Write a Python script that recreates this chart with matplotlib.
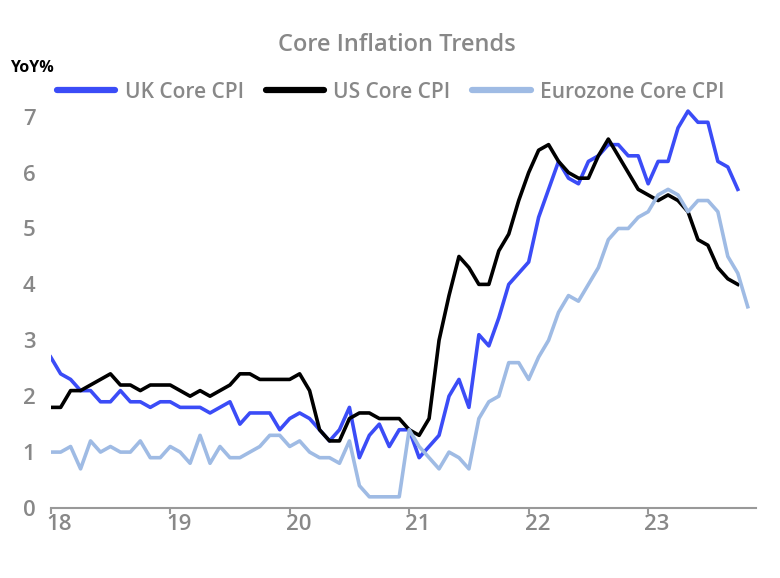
import matplotlib.pyplot as plt
import matplotlib.transforms as mtransforms
import numpy as np

# monthly YoY core inflation, Jan 2018 onwards
uk_core = [2.7, 2.4, 2.3, 2.1, 2.1, 1.9, 1.9, 2.1, 1.9, 1.9, 1.8, 1.9,
           1.9, 1.8, 1.8, 1.8, 1.7, 1.8, 1.9, 1.5, 1.7, 1.7, 1.7, 1.4,
           1.6, 1.7, 1.6, 1.4, 1.2, 1.4, 1.8, 0.9, 1.3, 1.5, 1.1, 1.4,
           1.4, 0.9, 1.1, 1.3, 2.0, 2.3, 1.8, 3.1, 2.9, 3.4, 4.0, 4.2,
           4.4, 5.2, 5.7, 6.2, 5.9, 5.8, 6.2, 6.3, 6.5, 6.5, 6.3, 6.3,
           5.8, 6.2, 6.2, 6.8, 7.1, 6.9, 6.9, 6.2, 6.1, 5.7]
us_core = [1.8, 1.8, 2.1, 2.1, 2.2, 2.3, 2.4, 2.2, 2.2, 2.1, 2.2, 2.2,
           2.2, 2.1, 2.0, 2.1, 2.0, 2.1, 2.2, 2.4, 2.4, 2.3, 2.3, 2.3,
           2.3, 2.4, 2.1, 1.4, 1.2, 1.2, 1.6, 1.7, 1.7, 1.6, 1.6, 1.6,
           1.4, 1.3, 1.6, 3.0, 3.8, 4.5, 4.3, 4.0, 4.0, 4.6, 4.9, 5.5,
           6.0, 6.4, 6.5, 6.2, 6.0, 5.9, 5.9, 6.3, 6.6, 6.3, 6.0, 5.7,
           5.6, 5.5, 5.6, 5.5, 5.3, 4.8, 4.7, 4.3, 4.1, 4.0]
ez_core = [1.0, 1.0, 1.1, 0.7, 1.2, 1.0, 1.1, 1.0, 1.0, 1.2, 0.9, 0.9,
           1.1, 1.0, 0.8, 1.3, 0.8, 1.1, 0.9, 0.9, 1.0, 1.1, 1.3, 1.3,
           1.1, 1.2, 1.0, 0.9, 0.9, 0.8, 1.2, 0.4, 0.2, 0.2, 0.2, 0.2,
           1.4, 1.1, 0.9, 0.7, 1.0, 0.9, 0.7, 1.6, 1.9, 2.0, 2.6, 2.6,
           2.3, 2.7, 3.0, 3.5, 3.8, 3.7, 4.0, 4.3, 4.8, 5.0, 5.0, 5.2,
           5.3, 5.6, 5.7, 5.6, 5.3, 5.5, 5.5, 5.3, 4.5, 4.2, 3.6]
years = [18, 19, 20, 21, 22, 23]

gray = '#888888'
plt.rcParams['font.family'] = ['Open Sans', 'DejaVu Sans']

fig = plt.figure(figsize=(7.8, 5.78), dpi=100)
ax = fig.add_axes([50.7 / 780, 70 / 578, 705 / 780, 402.5 / 578])

def months(n):
    return 18 + np.arange(n) / 12

ax.plot(months(len(uk_core)), uk_core, color='#3b4cf7', lw=2.6, label='UK Core CPI')
ax.plot(months(len(us_core)), us_core, color='black', lw=2.6, label='US Core CPI')
ax.plot(months(len(ez_core)), ez_core, color='#9fbbe4', lw=2.6, label='Eurozone Core CPI')

ax.set_xlim(18, 23.9)
ax.set_ylim(0, 7.2)
ax.set_xticks(years)
ax.set_xticklabels([str(y) for y in years])
ax.set_yticks(range(8))

for s in ['top', 'right', 'left']:
    ax.spines[s].set_visible(False)
ax.spines['bottom'].set_color('#999999')
ax.spines['bottom'].set_linewidth(1.5)
ax.tick_params(axis='x', colors='#999999', length=4, width=1.5, labelsize=16,
               labelcolor=gray, pad=0)
ax.tick_params(axis='y', length=0, labelsize=16, labelcolor=gray, pad=11)
shift = mtransforms.ScaledTranslation(-4 / 100, 0, fig.dpi_scale_trans)
for lbl in ax.get_xticklabels():
    lbl.set_horizontalalignment('left')
    lbl.set_transform(lbl.get_transform() + shift)
for lbl in ax.get_xticklabels() + ax.get_yticklabels():
    lbl.set_fontweight('semibold')

fig.text(397 / 780, 1 - 45 / 578, 'Core Inflation Trends', ha='center', va='center',
         fontsize=17, color=gray, fontweight='semibold')
fig.text(10 / 780, 1 - 68 / 578, 'YoY%', ha='left', va='center', fontsize=11.5,
         fontweight='bold', color='black')

leg = fig.legend(loc='center left', bbox_to_anchor=(57 / 780, 1 - 92 / 578), ncol=3,
                 frameon=False, fontsize=15, handlelength=2.8, handletextpad=0.45,
                 columnspacing=1.05, borderaxespad=0, borderpad=0)
for t in leg.get_texts():
    t.set_color(gray)
    t.set_fontweight('semibold')
for h in leg.legend_handles:
    h.set_linewidth(4.5)
    h.set_solid_capstyle('round')

fig.savefig('out.png', dpi=100)
